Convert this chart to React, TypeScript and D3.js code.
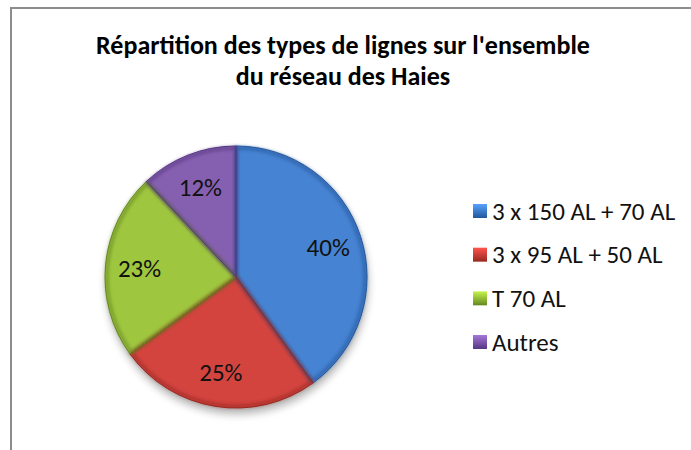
import React from "react";
import * as d3 from "d3";

const categories = ["3 x 150 AL + 70 AL", "3 x 95 AL + 50 AL", "T 70 AL", "Autres"];
const values = [40, 25, 23, 12];
const colors = ["#4683d2", "#d4443f", "#9fc63f", "#8660b0"];
const darkColors = ["#23569a", "#97281f", "#65871f", "#553782"];
const titleLines = ["Répartition des types de lignes sur l'ensemble", "du réseau des Haies"];

const W = 691, H = 450;
const cx = 236, cy = 277, R = 131;
const FONT = "Carlito, Calibri, 'Liberation Sans', sans-serif";

export default function App() {
  const pie = d3.pie<number>().sort(null).value((d) => d)(values);
  const arc = d3.arc<d3.PieArcDatum<number>>().innerRadius(0).outerRadius(R);
  const edgeArc = d3.arc<d3.PieArcDatum<number>>().innerRadius(0).outerRadius(R - 2);
  const labelArc = d3.arc<d3.PieArcDatum<number>>().innerRadius(R * 0.74).outerRadius(R * 0.74);
  const legendY = d3.scalePoint<string>().domain(categories).range([211, 342]);
  return (
    <svg width={W} height={H} style={{ position: "absolute", left: 0, top: 0, background: "#fff" }}>
      <defs>
        {colors.map((c, i) => (
          <linearGradient key={`l${i}`} id={`lg${i}`} x1="0" y1="0" x2="0" y2="1">
            <stop offset="0%" stopColor={d3.color(c)!.brighter(0.6).formatHex()} />
            <stop offset="100%" stopColor={darkColors[i]} />
          </linearGradient>
        ))}
        <filter id="shadow" x="-20%" y="-20%" width="140%" height="140%">
          <feGaussianBlur stdDeviation="4" />
        </filter>
        <filter id="soft" x="-10%" y="-10%" width="120%" height="120%">
          <feGaussianBlur stdDeviation="1.5" />
        </filter>
      </defs>
      <rect x={0} y={0} width={W} height={H} fill="#fff" />
      <line x1={11} y1={8} x2={11} y2={H} stroke="#8c8c8c" strokeWidth={2} />
      <line x1={10} y1={8} x2={W} y2={8} stroke="#8c8c8c" strokeWidth={2} />
      <text fontFamily={FONT} fontWeight="bold" fontSize={26} textAnchor="middle" fill="#000">
        {titleLines.map((t, i) => (
          <tspan key={i} x={343} y={54 + i * 31}>{t}</tspan>
        ))}
      </text>
      <ellipse cx={cx + 1} cy={cy + 6} rx={R} ry={R} fill="#000" opacity={0.3} filter="url(#shadow)" />
      <g transform={`translate(${cx},${cy})`}>
        {pie.map((p, i) => (
          <path key={i} d={arc(p)!} fill={colors[i]} />
        ))}
        {pie.map((p, i) => (
          <path key={`e${i}`} d={edgeArc(p)!} fill="none" stroke={darkColors[i]} strokeWidth={4} strokeOpacity={0.55} filter="url(#soft)" />
        ))}
        {pie.map((p, i) => (
          <path key={`o${i}`} d={arc(p)!} fill="none" stroke={darkColors[i]} strokeWidth={1} />
        ))}
        {pie.map((p, i) => {
          const [x, y] = labelArc.centroid(p);
          return (
            <text key={`t${i}`} x={x} y={y} dy="0.35em" textAnchor="middle" fontFamily={FONT} fontSize={25} fill="#111">
              {`${values[i]}%`}
            </text>
          );
        })}
      </g>
      {categories.map((c, i) => (
        <g key={c} transform={`translate(473,${legendY(c)})`}>
          <rect x={0} y={-7} width={14} height={14} fill={`url(#lg${i})`} />
          <text x={19} y={0} dy="0.35em" fontFamily={FONT} fontSize={25} fill="#111">{c}</text>
        </g>
      ))}
    </svg>
  );
}
